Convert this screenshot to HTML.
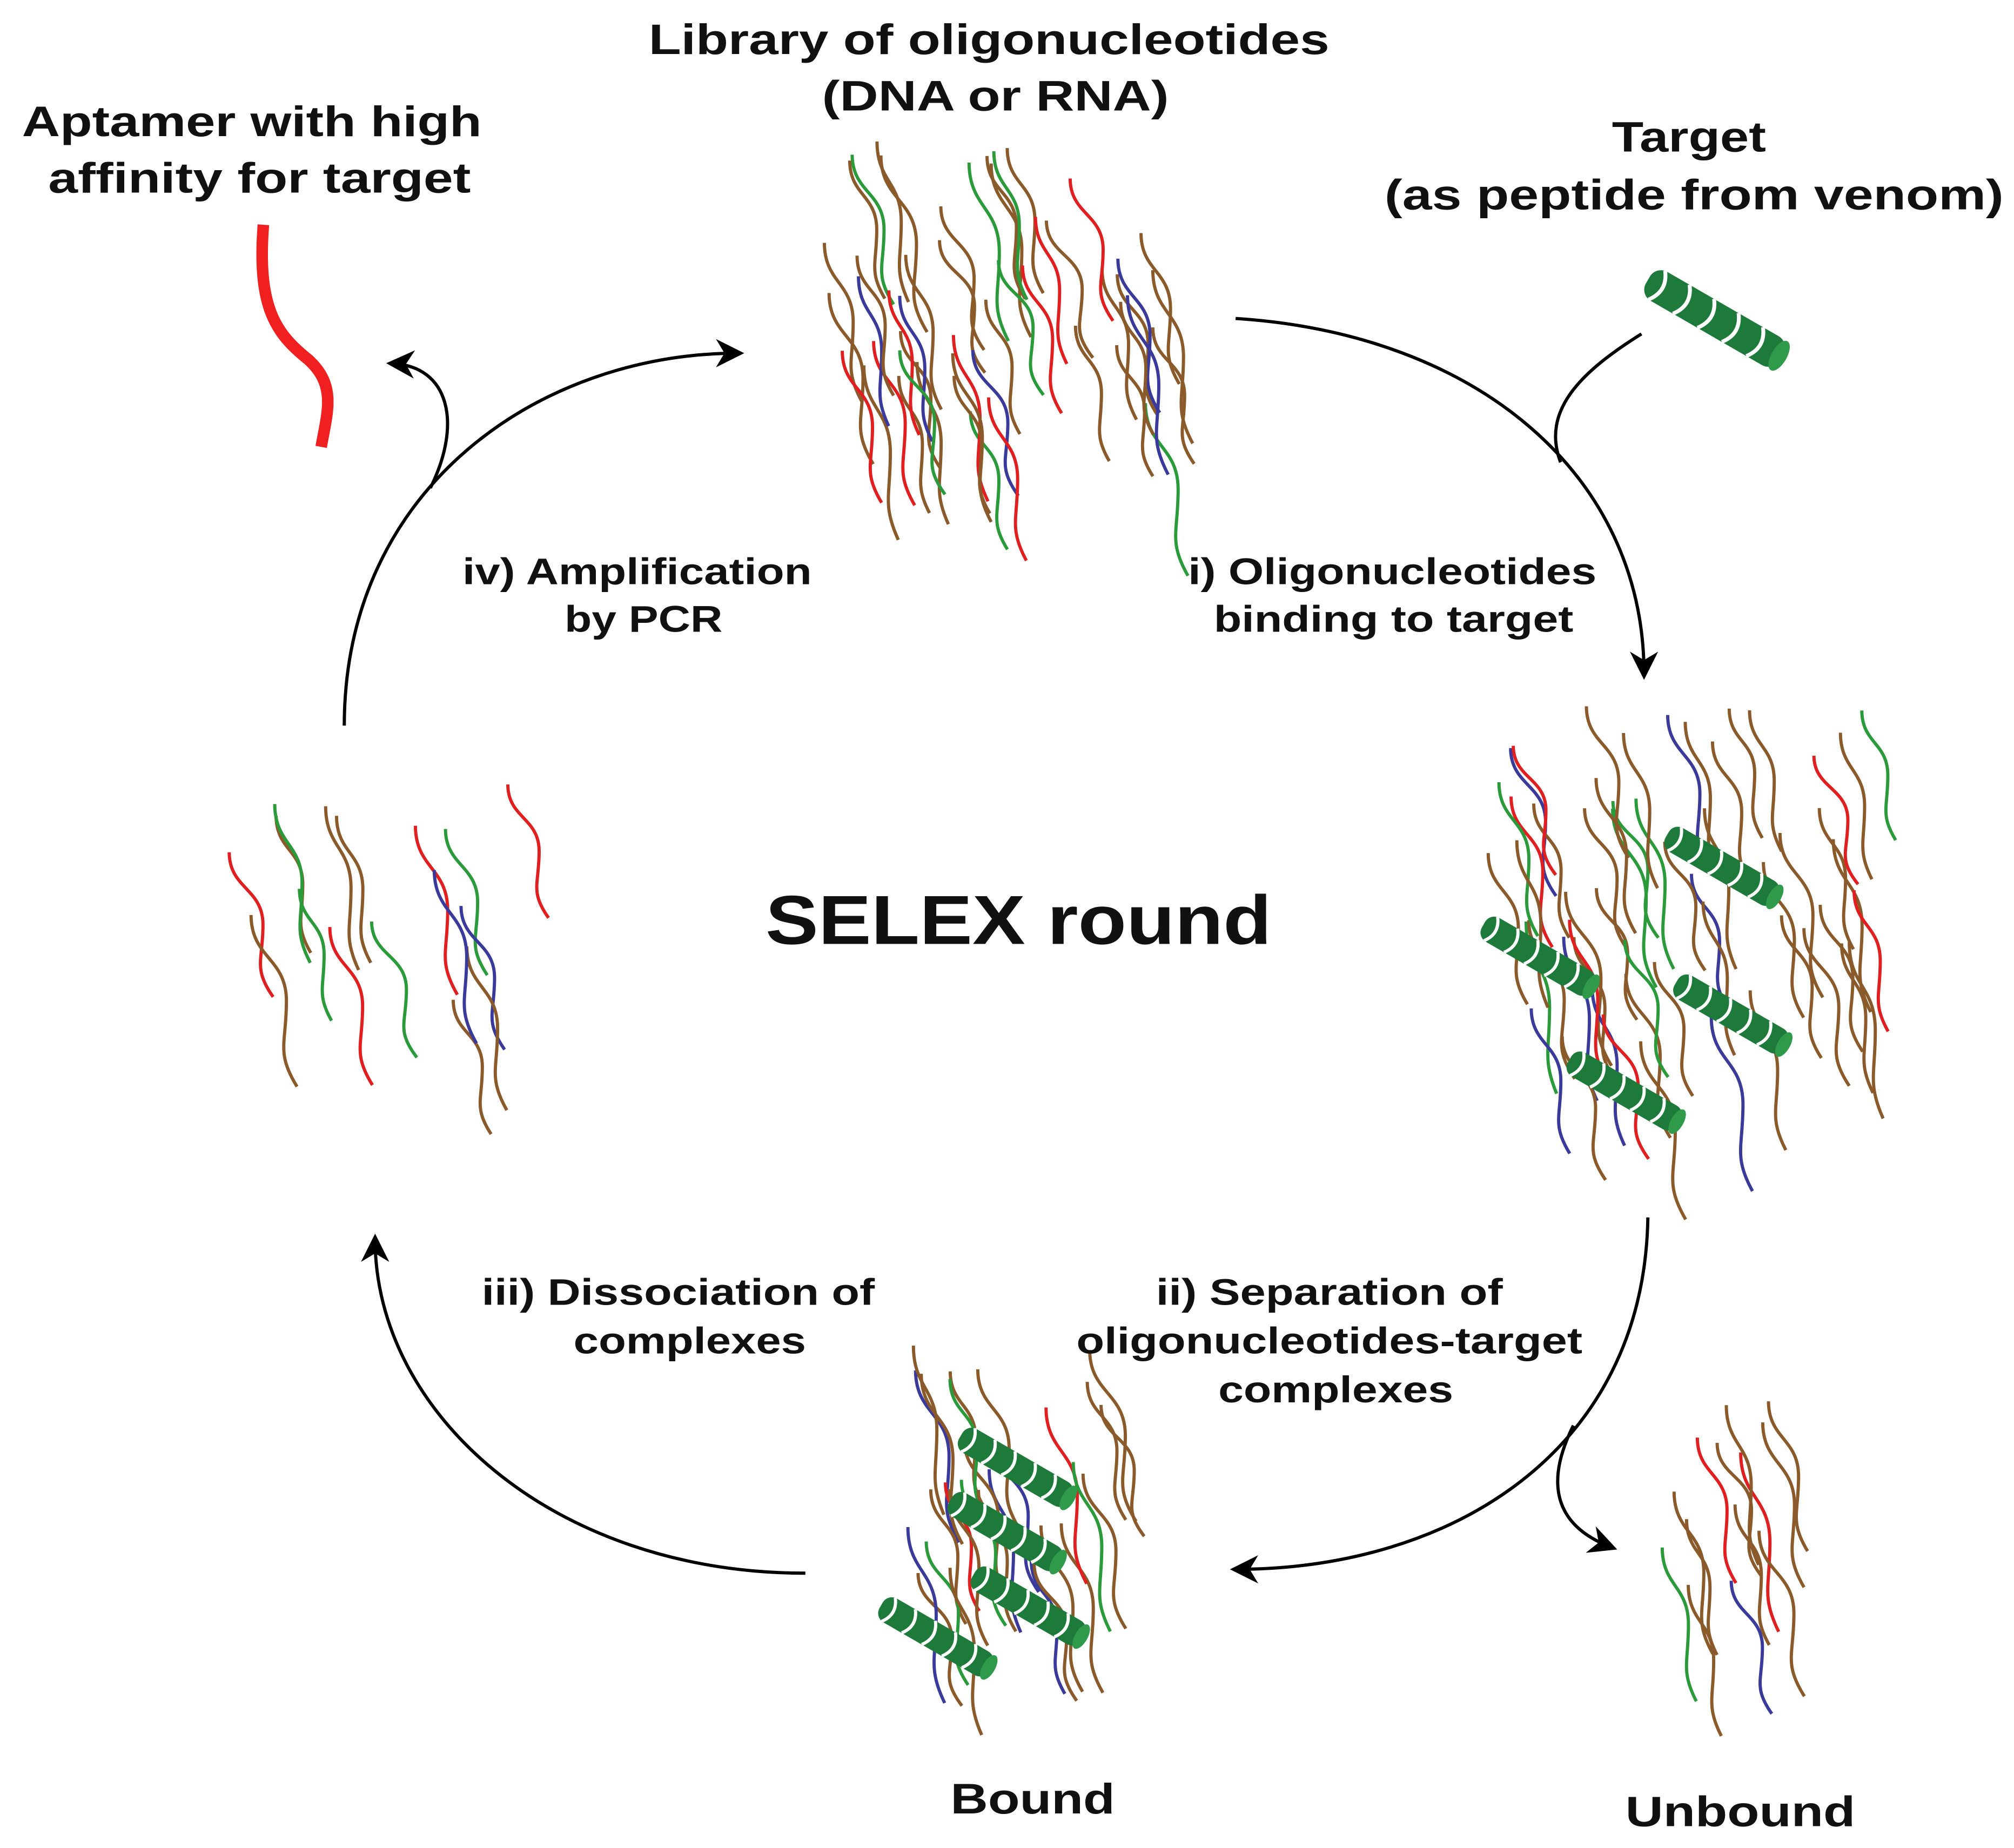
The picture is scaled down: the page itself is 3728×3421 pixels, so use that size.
<!DOCTYPE html>
<html><head><meta charset="utf-8"><style>
html,body{margin:0;padding:0;background:#fff}
svg{display:block}
text{font-family:"Liberation Sans",sans-serif;font-weight:bold;fill:#111;text-anchor:middle}
</style></head><body>
<svg id="s" width="3728" height="3421" viewBox="0 0 1568 1439" xmlns="http://www.w3.org/2000/svg">
<defs>
<marker id="ah2" viewBox="0 0 10 10" refX="8" refY="5" markerWidth="22" markerHeight="22" orient="auto" markerUnits="userSpaceOnUse">
<path d="M0,0 L10,5 L0,10 L3,5 z" fill="#000"/></marker>
<g id="hx">
<rect x="0" y="-13" width="120" height="26" rx="10" fill="#1e7a3a"/>
<path d="M8,-13 q10,13 0,26 M30,-13 q10,13 0,26 M52,-13 q10,13 0,26 M74,-13 q10,13 0,26 M96,-13 q10,13 0,26" stroke="#fff" stroke-width="3" fill="none"/>
<ellipse cx="118" cy="0" rx="6" ry="13" fill="#2e9a4a"/>
</g>
</defs>
<g id="strands" fill="none" stroke-width="2.5"></g>
<g fill="none" stroke="#000" stroke-width="2.5">
<path d="M962,248 C1150,260 1280,370 1280,525" marker-end="url(#ah2)"/>
<path d="M1278,260 C1230,290 1200,320 1215,360"/>
<path d="M1283,948 C1280,1130 1130,1222 962,1222" marker-end="url(#ah2)"/>
<path d="M1225,1110 C1200,1160 1215,1190 1255,1205" marker-end="url(#ah2)"/>
<path d="M627,1225 C430,1225 292,1100 292,965" marker-end="url(#ah2)"/>
<path d="M268,565 C268,380 420,275 575,275" marker-end="url(#ah2)"/>
<path d="M335,380 C360,330 350,285 305,283" marker-end="url(#ah2)"/>
</g>
<path d="M205,175 C200,240 215,260 240,280 C262,300 255,320 250,348" stroke="#f02020" stroke-width="9" fill="none"/>
<use href="#hx" transform="translate(1283,218) rotate(30)"/>
<g id="hel"></g>
<g lengthAdjust="spacingAndGlyphs">
<text x="770" y="42" font-size="33" textLength="530" lengthAdjust="spacingAndGlyphs">Library of oligonucleotides</text>
<text x="775" y="86" font-size="33" textLength="270" lengthAdjust="spacingAndGlyphs">(DNA or RNA)</text>
<text x="196" y="106" font-size="33" textLength="358" lengthAdjust="spacingAndGlyphs">Aptamer with high</text>
<text x="202" y="150" font-size="33" textLength="329" lengthAdjust="spacingAndGlyphs">affinity for target</text>
<text x="1315" y="118" font-size="33" textLength="120" lengthAdjust="spacingAndGlyphs">Target</text>
<text x="1319" y="163" font-size="33" textLength="482" lengthAdjust="spacingAndGlyphs">(as peptide from venom)</text>
<text x="496" y="455" font-size="29" textLength="272" lengthAdjust="spacingAndGlyphs">iv) Amplification</text>
<text x="501" y="492" font-size="29" textLength="123" lengthAdjust="spacingAndGlyphs">by PCR</text>
<text x="1084" y="455" font-size="29" textLength="318" lengthAdjust="spacingAndGlyphs">i) Oligonucleotides</text>
<text x="1085" y="492" font-size="29" textLength="280" lengthAdjust="spacingAndGlyphs">binding to target</text>
<text x="793" y="735" font-size="54" textLength="394" lengthAdjust="spacingAndGlyphs">SELEX round</text>
<text x="528" y="1016" font-size="29" textLength="306" lengthAdjust="spacingAndGlyphs">iii) Dissociation of</text>
<text x="537" y="1054" font-size="29" textLength="181" lengthAdjust="spacingAndGlyphs">complexes</text>
<text x="1035" y="1016" font-size="29" textLength="270" lengthAdjust="spacingAndGlyphs">ii) Separation of</text>
<text x="1035" y="1054" font-size="29" textLength="394" lengthAdjust="spacingAndGlyphs">oligonucleotides-target</text>
<text x="1040" y="1092" font-size="29" textLength="183" lengthAdjust="spacingAndGlyphs">complexes</text>
<text x="804" y="1412" font-size="33" textLength="128" lengthAdjust="spacingAndGlyphs">Bound</text>
<text x="1355" y="1422" font-size="33" textLength="179" lengthAdjust="spacingAndGlyphs">Unbound</text>
</g>
</svg>
<script>
var seed=7;function r(){seed=(seed*9301+49297)%233280;return seed/233280;}
var cols=["#8b5a2b","#8b5a2b","#8b5a2b","#2a9a3a","#3a3a9a","#e02020"];
var g=document.getElementById("strands"),ns="http://www.w3.org/2000/svg";
function area(x0,y0,x1,y1,n){for(var i=0;i<n;i++){var x=x0+r()*(x1-x0),y=y0+r()*(y1-y0),h=100+r()*40;
var p=document.createElementNS(ns,"path");var w=18+r()*10;
p.setAttribute("d","M"+x+","+y+" c0,"+h*0.25+" "+w+","+h*0.25+" "+w+","+h*0.5+" c0,"+h*0.25+" "+(-w*0.3)+","+h*0.3+" "+w*0.3+","+h*0.5);
p.setAttribute("stroke",cols[Math.floor(r()*cols.length)]);g.appendChild(p);}}
area(640,110,900,330,48);
area(1150,550,1450,780,48);
area(1190,780,1340,820,5);
area(178,610,400,780,16);
area(690,1045,860,1230,28);
area(1290,1090,1380,1240,13);
var hp=[[1298,650,30],[1155,720,30],[1305,765,30],[1222,825,30],[748,1118,30],[740,1168,30],[758,1226,30],[686,1250,30]];
var hg=document.getElementById("hel");
hp.forEach(function(a){var u=document.createElementNS(ns,"use");u.setAttribute("href","#hx");u.setAttribute("transform","translate("+a[0]+","+a[1]+") rotate("+a[2]+") scale(0.82)");hg.appendChild(u);});
</script>
</body></html>
